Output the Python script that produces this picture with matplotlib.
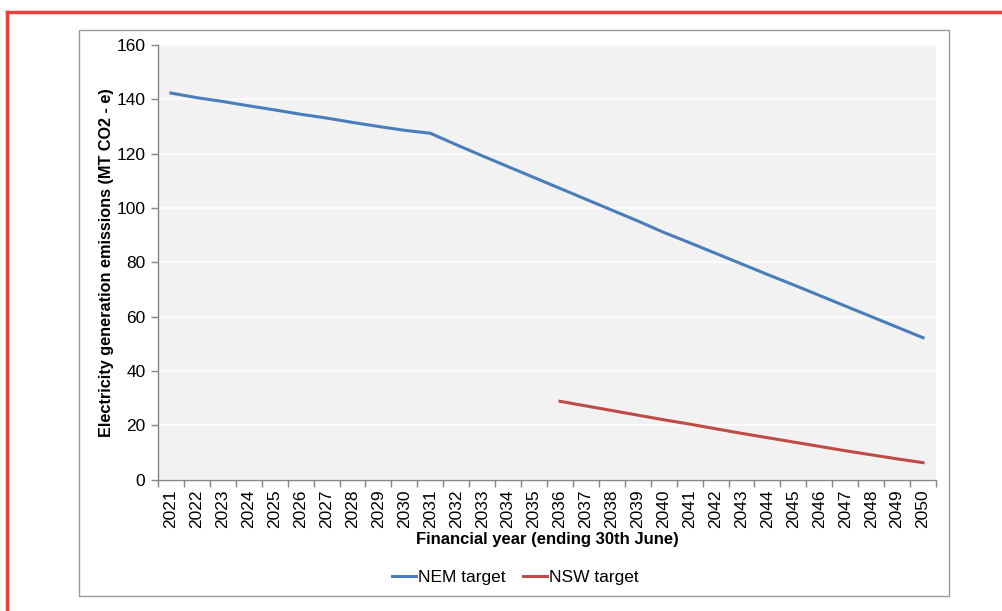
import matplotlib
matplotlib.use("Agg")
import matplotlib.pyplot as plt
from matplotlib.patches import Rectangle
from matplotlib.lines import Line2D

plt.rcParams['font.family'] = ['Liberation Sans', 'DejaVu Sans']

years = [str(y) for y in range(2021, 2051)]
nem_target = [142.3, 140.6, 139.2, 137.6, 136.1, 134.5, 133.1, 131.5, 130.0, 128.6,
              127.5, 123.3, 119.2, 115.2, 111.2, 107.2, 103.2, 99.2, 95.2, 91.0,
              87.2, 83.3, 79.4, 75.5, 71.7, 67.8, 63.9, 60.0, 56.1, 52.2]
nsw_years = [str(y) for y in range(2036, 2051)]
nsw_target = [28.8, 27.1, 25.4, 23.7, 22.0, 20.4, 18.7, 17.0, 15.4, 13.8,
              12.2, 10.6, 9.1, 7.6, 6.2]
y_ticks = [0, 20, 40, 60, 80, 100, 120, 140, 160]

W, H = 1002, 611
fig = plt.figure(figsize=(W / 100, H / 100), dpi=100)

# red frame (top and left)
fig.add_artist(Line2D([7 / W, 1.0], [1 - 12 / H, 1 - 12 / H], color='#E8413A', lw=2.5,
                      transform=fig.transFigure))
fig.add_artist(Line2D([7 / W, 7 / W], [0.0, 1 - 12 / H], color='#E8413A', lw=2.5,
                      transform=fig.transFigure))
# chart box
fig.add_artist(Rectangle((79 / W, 1 - 596 / H), (949 - 79) / W, (596 - 30) / H,
                         transform=fig.transFigure, fill=False, edgecolor='#9A9A9A', lw=1.0))

left, right, top, bottom = 158, 936, 45, 479.5
ax = fig.add_axes([left / W, 1 - bottom / H, (right - left) / W, (bottom - top) / H])
ax.set_facecolor('#F2F2F2')

x_idx = list(range(len(years)))
nsw_idx = [years.index(y) for y in nsw_years]
ax.plot(x_idx, nem_target, color='#4A7EBB', lw=2.2, label='NEM target')
ax.plot(nsw_idx, nsw_target, color='#BE4B48', lw=2.2, label='NSW target')

ax.set_xlim(-0.5, len(years) - 0.5)
ax.set_ylim(0, 160)
ax.set_yticks(y_ticks)
ax.set_yticklabels([str(v) for v in y_ticks], fontsize=12.5)
ax.set_xticks(x_idx)
ax.set_xticklabels(years, rotation=90, fontsize=12.5)
ax.set_xticks([i - 0.5 for i in range(len(years) + 1)], minor=True)
ax.tick_params(axis='x', which='major', length=0, pad=7)
ax.tick_params(axis='x', which='minor', length=5, color='#868686', width=1)
ax.tick_params(axis='y', length=5, color='#868686', width=1, pad=4)

ax.grid(axis='y', color='white', lw=1.2)
ax.set_axisbelow(True)
for s in ['top', 'right']:
    ax.spines[s].set_visible(False)
for s in ['left', 'bottom']:
    ax.spines[s].set_color('#868686')
    ax.spines[s].set_linewidth(1)

ax.set_ylabel('Electricity generation emissions (MT CO2 - e)', fontsize=11.7,
              fontweight='bold', labelpad=2)
ax.set_xlabel('Financial year (ending 30th June)', fontsize=12, fontweight='bold',
              labelpad=3)

leg = fig.legend(loc='center', bbox_to_anchor=(515 / W, 1 - 577 / H), ncol=2,
                 frameon=False, fontsize=12.5, handlelength=1.4, handletextpad=0.1,
                 columnspacing=1.0)

fig.savefig('out.png', dpi=100)
